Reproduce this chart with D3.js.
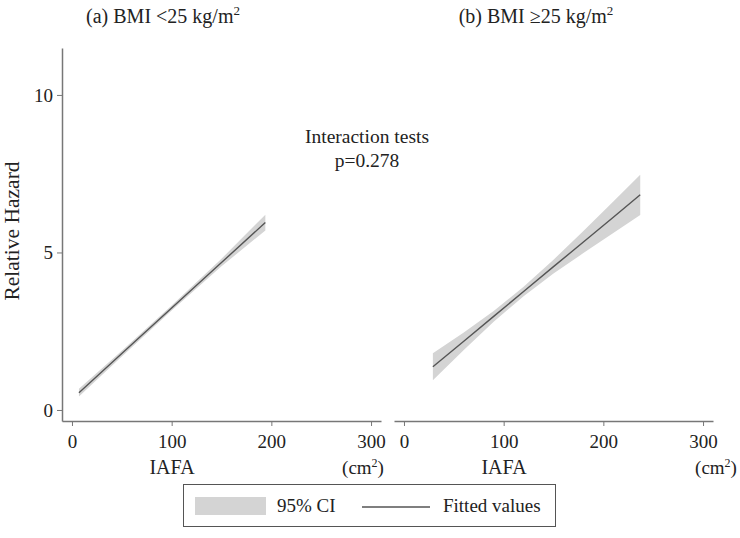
<!DOCTYPE html>
<html><head><meta charset="utf-8">
<script src="https://cdn.jsdelivr.net/npm/d3@7"></script>
<style>
html,body{margin:0;padding:0;background:#fff;}
svg{display:block;font-family:"Liberation Serif","DejaVu Serif",serif;}
</style></head>
<body>
<svg id="chart" width="740" height="538"></svg>
<script>
// ---- data ----
const panelTitles = ["(a) BMI <25 kg/m", "(b) BMI \u226525 kg/m"];
const xTicks = [0, 100, 200, 300];
const yTicks = [0, 5, 10];
// Panel (a) BMI < 25
const aIAFA  = [7, 50, 100, 150, 194];
const aFit   = [0.55, 1.79, 3.24, 4.68, 5.95];
const aLower = [0.43, 1.70, 3.16, 4.56, 5.70];
const aUpper = [0.67, 1.88, 3.32, 4.80, 6.20];
// Panel (b) BMI >= 25
const bIAFA  = [29, 60, 90, 120, 150, 180, 210, 237];
const bFit   = [1.37, 2.18, 2.97, 3.76, 4.55, 5.33, 6.12, 6.83];
const bLower = [0.94, 1.90, 2.80, 3.61, 4.33, 4.98, 5.62, 6.19];
const bUpper = [1.80, 2.46, 3.14, 3.91, 4.77, 5.68, 6.62, 7.47];
const interactionText = ["Interaction tests", "p=0.278"];
const legendLabels = ["95% CI", "Fitted values"];

// ---- layout ----
const svg = d3.select("#chart");
const axisColor = "#777";
const textColor = "#222";
const bandColor = "#d4d4d4";
const lineColor = "#555";

const y = d3.scaleLinear().domain([-0.35, 11.49]).range([421, 48]);
const panels = [
  {title: panelTitles[0], x: d3.scaleLinear().domain([-10, 310]).range([62, 381]),
   xs: aIAFA, fit: aFit, lo: aLower, hi: aUpper, yAxis: true, titleX: 163, iafaX: 172, cmX: 363},
  {title: panelTitles[1], x: d3.scaleLinear().domain([-10, 310]).range([394, 713]),
   xs: bIAFA, fit: bFit, lo: bLower, hi: bUpper, yAxis: false, titleX: 536, iafaX: 504, cmX: 716}
];

panels.forEach(p => {
  const g = svg.append("g");
  const rows = p.xs.map((v, i) => ({x: v, fit: p.fit[i], lo: p.lo[i], hi: p.hi[i]}));
  // CI band
  g.append("path").datum(rows)
    .attr("d", d3.area().x(d => p.x(d.x)).y0(d => y(d.lo)).y1(d => y(d.hi)))
    .attr("fill", bandColor);
  // fitted line
  g.append("path").datum(rows)
    .attr("d", d3.line().x(d => p.x(d.x)).y(d => y(d.fit)))
    .attr("fill", "none").attr("stroke", lineColor).attr("stroke-width", 1.4);

  // x axis
  const xa = g.append("g").attr("transform", "translate(0,421)")
    .call(d3.axisBottom(p.x).tickValues(xTicks).tickSize(5).tickPadding(9).tickSizeOuter(0));
  xa.select(".domain").attr("stroke", axisColor).attr("stroke-width", 1.5);
  xa.selectAll(".tick line").attr("stroke", axisColor).attr("stroke-width", 1);
  xa.selectAll(".tick text").attr("font-size", 19).attr("fill", textColor)
    .attr("font-family", "Liberation Serif");

  if (p.yAxis) {
    const ya = g.append("g").attr("transform", `translate(${p.x.range()[0]},0)`)
      .call(d3.axisLeft(y).tickValues(yTicks).tickSize(5).tickPadding(4).tickSizeOuter(0));
    ya.select(".domain").attr("stroke", axisColor).attr("stroke-width", 1.5);
    ya.selectAll(".tick line").attr("stroke", axisColor).attr("stroke-width", 1);
    ya.selectAll(".tick text").attr("font-size", 19).attr("fill", textColor)
      .attr("font-family", "Liberation Serif");
  }

  // title with superscript
  const t = g.append("text").attr("x", p.titleX).attr("y", 23)
    .attr("text-anchor", "middle").attr("font-size", 20).attr("fill", textColor);
  t.append("tspan").text(p.title);
  t.append("tspan").text("2").attr("font-size", 13).attr("dy", -8);

  // x title
  g.append("text").attr("x", p.iafaX).attr("y", 474).attr("text-anchor", "middle")
    .attr("font-size", 20).attr("fill", textColor).text("IAFA");
  const cm = g.append("text").attr("x", p.cmX).attr("y", 474).attr("text-anchor", "middle")
    .attr("font-size", 19).attr("fill", textColor);
  cm.append("tspan").text("(cm");
  cm.append("tspan").text("2").attr("font-size", 12).attr("dy", -7);
  cm.append("tspan").text(")").attr("dy", 7);
});

// y-axis title
svg.append("text").attr("transform", "translate(19,231) rotate(-90)")
  .attr("text-anchor", "middle").attr("font-size", 21.5).attr("fill", textColor)
  .text("Relative Hazard");

// interaction text
svg.selectAll("text.inter").data(interactionText).enter().append("text")
  .attr("class", "inter")
  .attr("x", 367).attr("y", (d, i) => 143 + i * 24)
  .attr("text-anchor", "middle").attr("font-size", 19.5).attr("fill", textColor)
  .text(d => d);

// legend
const lg = svg.append("g");
lg.append("rect").attr("x", 183.5).attr("y", 484.5).attr("width", 372).attr("height", 42)
  .attr("fill", "none").attr("stroke", "#555").attr("stroke-width", 1);
lg.append("rect").attr("x", 195).attr("y", 497).attr("width", 71).attr("height", 18)
  .attr("fill", bandColor);
lg.append("text").attr("x", 277).attr("y", 512).attr("font-size", 19).attr("fill", textColor)
  .text(legendLabels[0]);
lg.append("line").attr("x1", 362).attr("x2", 430).attr("y1", 507).attr("y2", 507)
  .attr("stroke", lineColor).attr("stroke-width", 1.4);
lg.append("text").attr("x", 443).attr("y", 512).attr("font-size", 19).attr("fill", textColor)
  .text(legendLabels[1]);
</script>
</body></html>
